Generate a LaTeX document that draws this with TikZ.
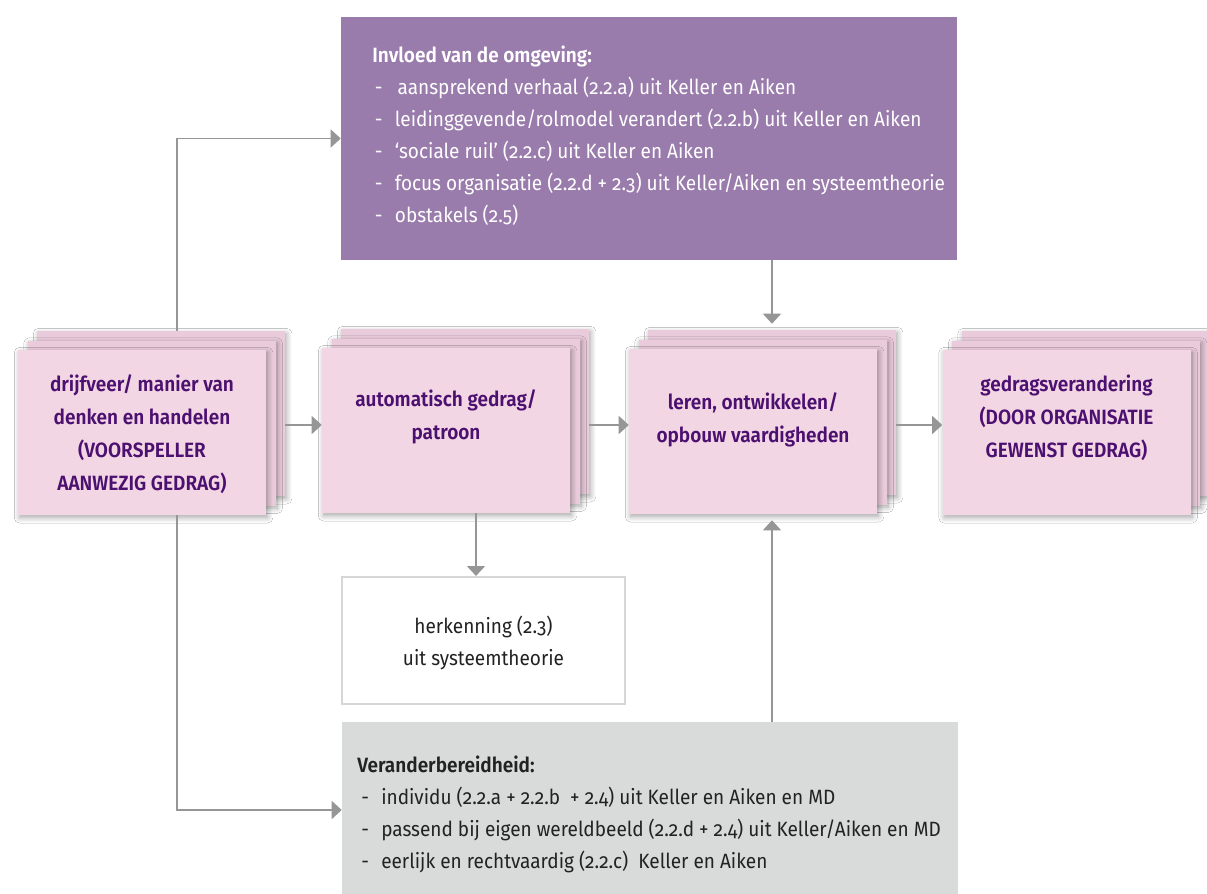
\documentclass[tikz,border=0pt]{standalone}
\usepackage{fontspec}
\setmainfont{Fira Sans}[Numbers=OldStyle,FakeStretch=0.92,BoldFont={Fira Sans SemiBold}]
\usetikzlibrary{arrows.meta,shadows.blur}

\definecolor{pinkfront}{RGB}{242,214,228}
\definecolor{pinkback}{RGB}{233,203,219}
\definecolor{inktext}{RGB}{76,16,112}
\definecolor{mauve}{RGB}{153,123,172}
\definecolor{greybox}{RGB}{217,218,218}
\definecolor{linegrey}{RGB}{150,150,150}
\definecolor{framegrey}{RGB}{214,214,214}
\definecolor{darktext}{RGB}{34,34,34}

\tikzset{
  stacklayer/.style={draw=none, fill=pinkback, inner sep=0pt,
    minimum width=186pt, minimum height=123.75pt,
    blur shadow={shadow xshift=1.2pt, shadow yshift=-2pt,
      shadow blur radius=4pt, shadow blur steps=8, shadow opacity=35}},
  stackfront/.style={stacklayer, fill=pinkfront},
  stacktext/.style={font=\bfseries\fontsize{15.5}{24.75}\selectfont,
    text=inktext, align=center, inner sep=0pt},
  listtext/.style={font=\fontsize{15.5}{24}\selectfont, align=left,
    inner sep=0pt, anchor=north west},
  conn/.style={draw=linegrey, line width=0.9pt,
    -{Triangle[length=7.5pt,width=13.5pt]}},
}

% three stacked cards: back, middle, front
\newcommand\pinkstack[3]{%
  \node[stacklayer] (#1-back) at ({#2+19},{#3-19}) {};
  \node[stacklayer] (#1-mid) at ({#2+9.5},{#3-9.5}) {};
  \node[stackfront] (#1) at (#2,#3) {};
}
\newcommand\dashitem{\makebox[15pt][l]{-}}

\begin{document}
\begin{tikzpicture}[x=0.75pt,y=-0.75pt]
\useasboundingbox (0,0) rectangle (1207,893);
\fill[white] (0,0) rectangle (1207,893);

% environment box
\node[fill=mauve, minimum width=462pt, minimum height=182.25pt, inner sep=0pt]
  (influence) at (649,138.5) {};
\node[listtext, text=white] (influence-list) at (372,46)
  {\textbf{Invloed van de omgeving:}\\
   \hspace*{2pt}\dashitem\hspace{2pt}aansprekend verhaal (2.2.a) uit Keller en Aiken\\
   \hspace*{2pt}\dashitem leidinggevende/rolmodel verandert (2.2.b) uit Keller en Aiken\\
   \hspace*{2pt}\dashitem ‘sociale ruil’ (2.2.c) uit Keller en Aiken\\
   \hspace*{2pt}\dashitem focus organisatie (2.2.d + 2.3) uit Keller/Aiken en systeemtheorie\\
   \hspace*{2pt}\dashitem obstakels (2.5)};

% readiness box
\node[fill=greybox, minimum width=462pt, minimum height=132pt, inner sep=0pt]
  (ready) at (650,810) {};
\node[listtext, text=darktext] (ready-list) at (357,756)
  {\textbf{Veranderbereidheid:}\\
   \hspace*{3pt}\dashitem individu (2.2.a + 2.2.b\ \ + 2.4) uit Keller en Aiken en MD\\
   \hspace*{3pt}\dashitem passend bij eigen wereldbeeld (2.2.d + 2.4) uit Keller/Aiken en MD\\
   \hspace*{3pt}\dashitem eerlijk en rechtvaardig (2.2.c)\ \ Keller en Aiken};

% recognition box
\node[draw=framegrey, line width=1.5pt, fill=white, minimum width=212.25pt,
  minimum height=95.25pt, inner sep=0pt] (recog) at (483.5,640.5) {};
\node[font=\fontsize{15.5}{24}\selectfont, text=darktext, align=center,
  inner sep=0pt] (recog-label) at (483.5,643)
  {herkenning (2.3)\\uit systeemtheorie};

% the four stages
\pinkstack{drive}{142}{432.5}
\pinkstack{habit}{446}{430.5}
\pinkstack{learn}{753}{431.5}
\pinkstack{change}{1066.5}{432.5}

\node[stacktext] (drive-label) at (142,434.5)
  {drijfveer/ manier van\\denken en handelen\\(VOORSPELLER\\AANWEZIG GEDRAG)};
\node[stacktext] (habit-label) at (446,416.5)
  {automatisch gedrag/\\patroon};
\node[stacktext] (learn-label) at (753,420)
  {leren, ontwikkelen/\\opbouw vaardigheden};
\node[stacktext] (change-label) at (1066.5,418)
  {gedragsverandering\\(DOOR ORGANISATIE\\GEWENST GEDRAG)};

% connectors
\coordinate (spine) at (177,0);
\coordinate (row) at (0,425);
\coordinate (dropx) at (476,0);
\coordinate (learn-foot) at ([yshift=-4.5pt]learn.south);
\coordinate (learn-head) at ([yshift=4.5pt]learn-back.north);

\draw[conn] (drive-back.north -| spine) |- (influence.west);
\draw[conn] (drive.south -| spine) |- (ready.west);
\draw[conn] (drive-back.east |- row) -- (habit.west |- row);
\draw[conn] (habit-back.east |- row) -- (learn.west |- row);
\draw[conn] (learn-back.east |- row) -- (change.west |- row);
\draw[conn] (influence.south -| learn-back.north) -- (learn-head);
\draw[conn] (ready.north -| learn-back.south) -- (learn-foot -| learn-back.south);
\draw[conn] (habit.south -| dropx) -- (recog.north -| dropx);
\end{tikzpicture}
\end{document}
